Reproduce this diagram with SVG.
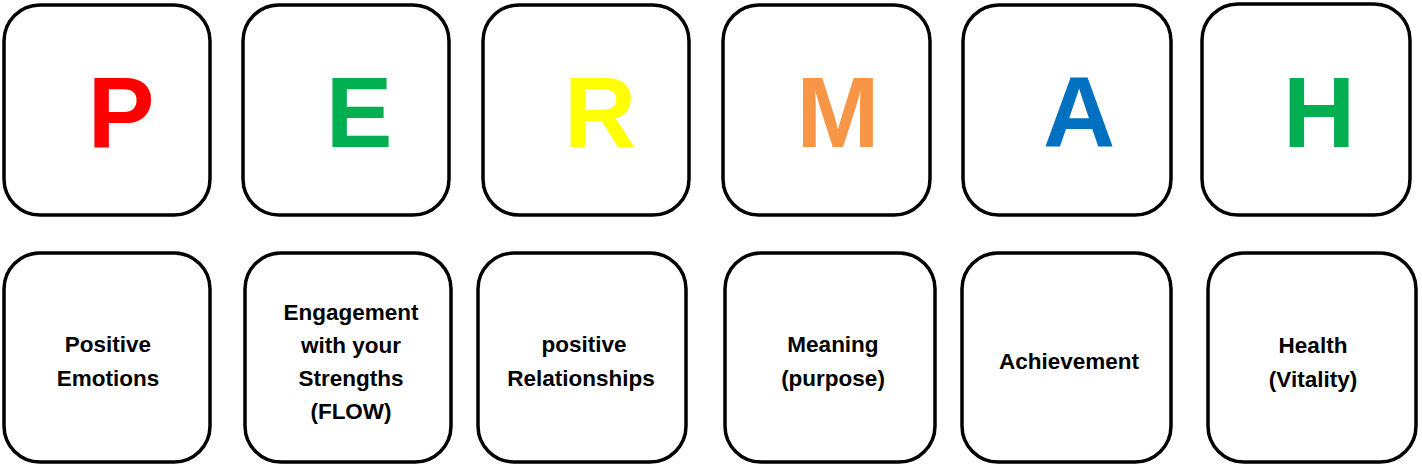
<svg xmlns="http://www.w3.org/2000/svg" width="1422" height="468" viewBox="0 0 1422 468">
<style>
.box{fill:#fff;stroke:#000;stroke-width:3.5}
.big{font-family:"Liberation Sans",Arial,sans-serif;font-weight:bold;font-size:100px;text-anchor:middle}
.lbl{font-family:"Liberation Sans",Arial,sans-serif;font-weight:bold;font-size:22.5px;text-anchor:middle;fill:#000}
</style>
<rect width="1422" height="468" fill="#fff"/>
<g id="letters">
<g id="P"><rect class="box" x="4" y="5" width="206" height="210" rx="36"/><text class="big" x="121" y="147" fill="#FF0000">P</text></g>
<g id="E"><rect class="box" x="243" y="5" width="206" height="210" rx="36"/><text class="big" x="359" y="147" fill="#00B050">E</text></g>
<g id="R"><rect class="box" x="483" y="5" width="206" height="210" rx="36"/><text class="big" x="600" y="147" fill="#FFFF00">R</text></g>
<g id="M"><rect class="box" x="723" y="5" width="207" height="210" rx="36"/><text class="big" x="838" y="147" fill="#F79646">M</text></g>
<g id="A"><rect class="box" x="963" y="5" width="208" height="210" rx="36"/><text class="big" x="1079" y="147" fill="#0070C0">A</text></g>
<g id="H"><rect class="box" x="1202" y="4" width="208" height="211" rx="36"/><text class="big" x="1319" y="147" fill="#00B050">H</text></g>
</g>
<g id="connectors"/>
<g id="descriptions">
<g id="d-P"><rect class="box" x="4" y="253" width="206" height="209" rx="36"/><text class="lbl" x="108" y="352">Positive</text><text class="lbl" x="108" y="386">Emotions</text></g>
<g id="d-E"><rect class="box" x="245" y="253" width="206" height="209" rx="36"/><text class="lbl" x="351" y="320">Engagement</text><text class="lbl" x="351" y="353">with your</text><text class="lbl" x="351" y="386">Strengths</text><text class="lbl" x="351" y="419">(FLOW)</text></g>
<g id="d-R"><rect class="box" x="478" y="253" width="208" height="209" rx="36"/><text class="lbl" x="584" y="352">positive</text><text class="lbl" x="581" y="386">Relationships</text></g>
<g id="d-M"><rect class="box" x="725" y="253" width="210" height="209" rx="36"/><text class="lbl" x="833" y="352">Meaning</text><text class="lbl" x="833" y="386">(purpose)</text></g>
<g id="d-A"><rect class="box" x="962" y="253" width="209" height="209" rx="36"/><text class="lbl" x="1069" y="369">Achievement</text></g>
<g id="d-H"><rect class="box" x="1208" y="253" width="208" height="209" rx="36"/><text class="lbl" x="1313" y="353">Health</text><text class="lbl" x="1313" y="387">(Vitality)</text></g>
</g>
</svg>
